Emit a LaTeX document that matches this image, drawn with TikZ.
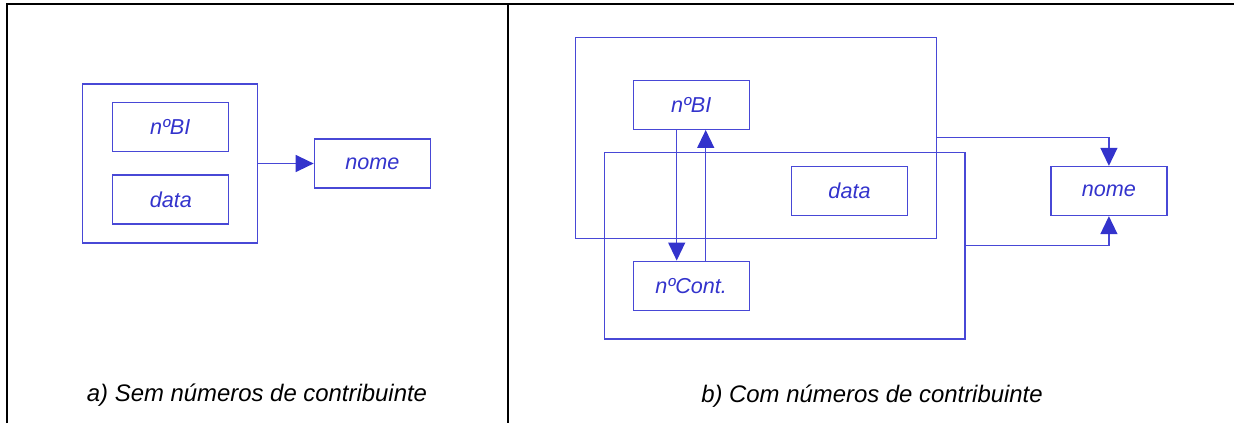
\documentclass[tikz,border=0pt]{standalone}
\usepackage{fontspec}
\setmainfont{Liberation Sans}
\usepackage{tikz}
\usetikzlibrary{positioning}
\usetikzlibrary{arrows.meta}
\definecolor{linhaazul}{RGB}{72,72,214}
\definecolor{textoazul}{RGB}{51,51,204}

\begin{document}
\begin{tikzpicture}[x=0.5pt, y=-0.5pt,
campo/.style={draw=linhaazul, line width=0.65pt, minimum width=58pt, minimum height=24.5pt,
  inner sep=0pt, text=textoazul, font=\fontsize{10.8}{12}\selectfont\itshape},
grupo/.style={draw=linhaazul, line width=0.65pt, inner sep=0pt},
liga/.style={draw=linhaazul, line width=0.65pt, -{Triangle[length=9pt,width=8.5pt,fill=textoazul,color=textoazul]}},
legenda/.style={anchor=base, font=\fontsize{11.95}{14}\selectfont\itshape}]
\useasboundingbox (0,0) rectangle (1234,423);
% moldura
\draw[line width=1pt] (7,423) -- (7,4) -- (1234,4);
\draw[line width=1pt] (508,4) -- (508,423);

% a) sem numeros de contribuinte
\node[grupo, minimum width=87.5pt, minimum height=79.5pt] (grupoA) at (170.2,163.5) {};
\node[campo] (biA) at (170.2,127.2) {nºBI};
\node[campo] (dataA) at (170.8,199.5) {data};
\node[campo] (nomeA) at (372.3,163.5) {nome};
\draw[liga] (grupoA.east) -- (nomeA.west);
\node[legenda] (legA) at (257,401.5) {a) Sem números de contribuinte};

% b) com numeros de contribuinte
\node[grupo, minimum width=180.3pt, minimum height=100.5pt] (grupoBI) at (756,137.8) {};
\node[grupo, minimum width=180.3pt, minimum height=93.3pt] (grupoCont) at (784.7,245.6) {};
\node[campo] (biB) at (691.2,104.8) {nºBI};
\node[campo] (dataB) at (849.5,191) {data};
\node[campo] (contB) at (691.2,285.7) {nºCont.};
\node[campo] (nomeB) at (1108.9,191) {nome};
\draw[liga] ([xshift=-7.25pt]biB.south) -- ([xshift=-7.25pt]contB.north);
\draw[liga] ([xshift=7.25pt]contB.north) -- ([xshift=7.25pt]biB.south);
\draw[liga] (grupoBI.east) -| (nomeB.north);
\draw[liga] (grupoCont.east) -| (nomeB.south);
\node[legenda] (legB) at (872,402) {b) Com números de contribuinte};
\end{tikzpicture}
\end{document}
